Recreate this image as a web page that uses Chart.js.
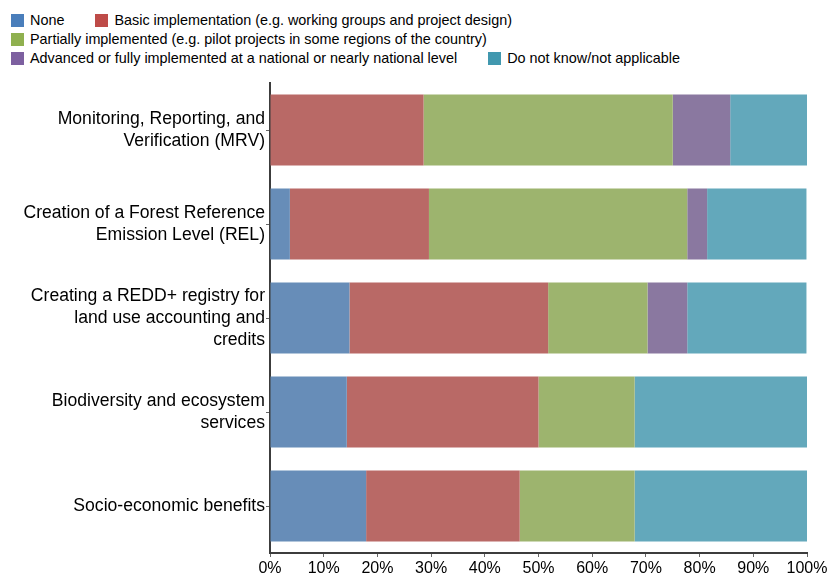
<!DOCTYPE html>
<html>
<head>
<meta charset="utf-8">
<script src="https://cdn.jsdelivr.net/npm/chart.js@4/dist/chart.umd.min.js"></script>
<style>
  html, body { margin: 0; padding: 0; background: #fff; overflow: hidden; }
  body { width: 828px; height: 573px; position: relative; font-family: "Liberation Sans", Arial, sans-serif; }
  #legend {
    position: absolute; left: 11px; top: 14px; width: 720px;
    display: flex; flex-wrap: wrap; column-gap: 31px; row-gap: 6px;
    font-size: 14.4px; line-height: 13px; color: #000;
  }
  #legend .item { display: flex; align-items: center; white-space: nowrap; }
  #legend .box { width: 13px; height: 13px; margin-right: 6px; }
  #chartWrap { position: absolute; left: 0; top: 0; width: 828px; height: 581px; }
</style>
</head>
<body>
<div id="legend"></div>
<div id="chartWrap"><canvas id="myChart"></canvas></div>
<script>
// Topics asked about (y axis)
const categories = [
  ['Monitoring, Reporting, and', 'Verification (MRV)'],
  ['Creation of a Forest Reference', 'Emission Level (REL)'],
  ['Creating a REDD+ registry for', 'land use accounting and', 'credits'],
  ['Biodiversity and ecosystem', 'services'],
  'Socio-economic benefits'
];

const seriesNames = [
  'None',
  'Basic implementation (e.g. working groups and project design)',
  'Partially implemented (e.g. pilot projects in some regions of the country)',
  'Advanced or fully implemented at a national or nearly national level',
  'Do not know/not applicable'
];

// Share of answers, in %
const noneValues = [0, 3.7, 14.8, 14.3, 17.9];
const basicValues = [28.6, 25.9, 37.0, 35.7, 28.6];
const partialValues = [46.4, 48.1, 18.5, 17.9, 21.4];
const advancedValues = [10.7, 3.7, 7.4, 0, 0];
const unknownValues = [14.3, 18.5, 22.2, 32.1, 32.1];

const xTicks = [0, 10, 20, 30, 40, 50, 60, 70, 80, 90, 100];

const barColors = ['#678db8', '#b96966', '#9db46e', '#8a78a0', '#63a8bb'];
const legendColors = ['#4a7ebb', '#be4b48', '#8fb04f', '#7d60a0', '#4198af'];

const allValues = [noneValues, basicValues, partialValues, advancedValues, unknownValues];

const data = {
  labels: categories,
  datasets: seriesNames.map((name, i) => ({
    label: name,
    data: allValues[i],
    backgroundColor: barColors[i],
    borderWidth: 0,
    barPercentage: 0.755,
    categoryPercentage: 1
  }))
};

// legend drawn as html so the item gaps can be set freely
const legendEl = document.getElementById('legend');
seriesNames.forEach((name, i) => {
  const item = document.createElement('div');
  item.className = 'item';
  const box = document.createElement('span');
  box.className = 'box';
  box.style.background = legendColors[i];
  const txt = document.createElement('span');
  txt.textContent = name;
  item.appendChild(box);
  item.appendChild(txt);
  legendEl.appendChild(item);
});

const fontFamily = '"Liberation Sans", Arial, sans-serif';

const config = {
  type: 'bar',
  data,
  options: {
    indexAxis: 'y',
    responsive: true,
    maintainAspectRatio: false,
    animation: false,
    layout: { padding: { top: 83, right: 21, left: 0, bottom: 0 } },
    plugins: {
      legend: { display: false },
      tooltip: { enabled: false }
    },
    scales: {
      x: {
        stacked: true,
        min: 0,
        max: 100,
        afterBuildTicks: (scale) => { scale.ticks = xTicks.map(v => ({ value: v })); },
        // let the 100% label hang into the right margin
        afterFit: (scale) => { scale.paddingRight = 0; },
        ticks: {
          color: '#000',
          font: { family: fontFamily, size: 16, lineHeight: 1 },
          padding: 4,
          maxRotation: 0,
          callback: (v) => v + '%'
        },
        grid: { drawOnChartArea: false, tickLength: 4, tickColor: '#666', lineWidth: 1 },
        border: { display: true, color: '#3c3c3c', width: 2 }
      },
      y: {
        stacked: true,
        afterFit: (scale) => { scale.width = 270; },
        ticks: { color: '#000', font: { family: fontFamily, size: 17.6, lineHeight: 1.23 }, padding: 1 },
        grid: { drawOnChartArea: false, offset: false, tickLength: 4, tickColor: '#666', lineWidth: 1 },
        border: { display: true, color: '#3c3c3c', width: 2 }
      }
    }
  }
};

const myChart = new Chart(
  document.getElementById('myChart').getContext('2d'),
  config
);
</script>
</body>
</html>
